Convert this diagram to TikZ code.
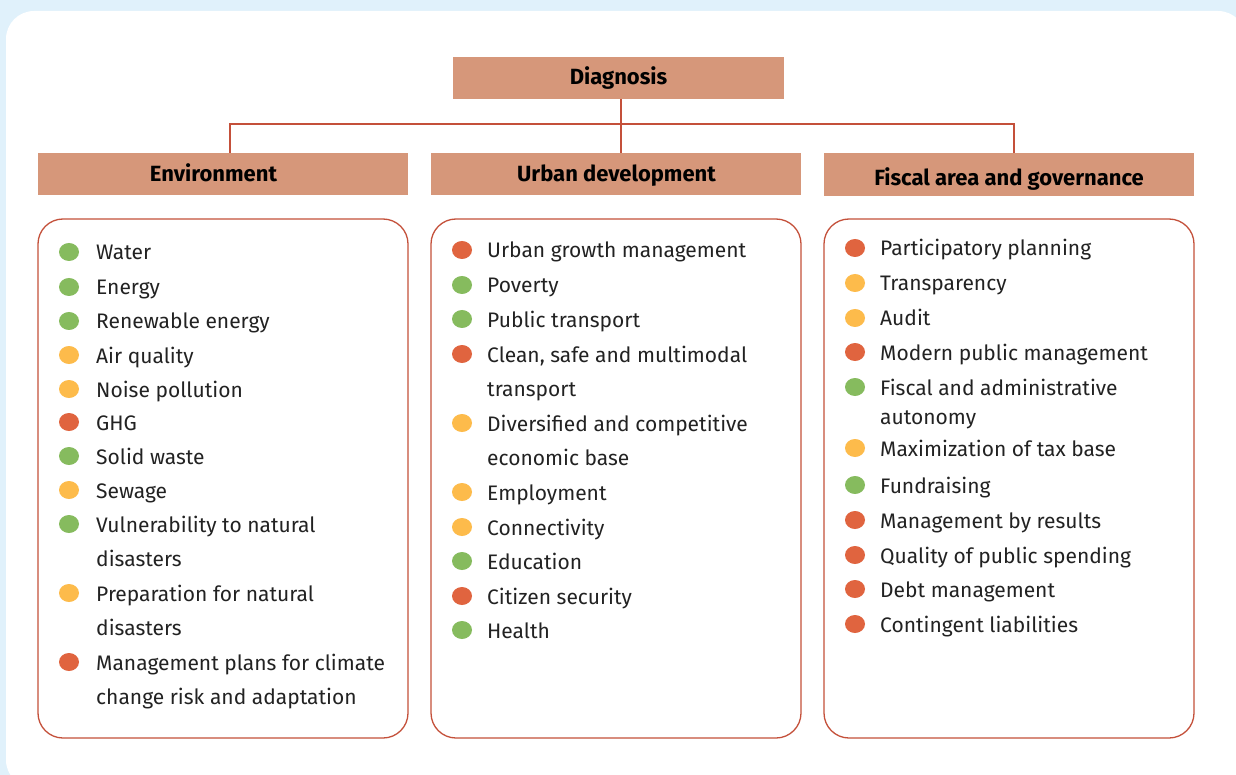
\documentclass[tikz,border=0pt]{standalone}
\usepackage{fontspec}
\setmainfont{Fira Sans}
\usetikzlibrary{shapes.geometric}
\definecolor{bg}{HTML}{E0F1FB}
\definecolor{hdr}{HTML}{D6977A}
\definecolor{lineC}{HTML}{C4503A}
\definecolor{gr}{HTML}{86BB5E}
\definecolor{yl}{HTML}{FDBB4B}
\definecolor{rd}{HTML}{E0643F}
\definecolor{txt}{HTML}{222222}
\newcommand\twol[2]{\vtop{\hbox{#1}\hbox{#2}}}
\newcommand\twos[2]{\vtop{\baselineskip=29pt\hbox{#1}\hbox{#2}}}
\begin{document}
\begin{tikzpicture}[x=1pt,y=-1pt,
  hdrbox/.style={fill=hdr, minimum height=42pt, inner sep=0pt, font=\fontsize{22}{26}\selectfont\bfseries, text=black},
  hdrtext/.style={inner sep=0pt, anchor=base, font=\fontsize{22}{26}\selectfont\bfseries, text=black},
  panel/.style={draw=lineC, line width=1.3pt, rounded corners=25pt, minimum width=370pt, minimum height=519pt, inner sep=0pt},
  dot/.style={ellipse, inner sep=0pt, minimum width=20pt, minimum height=18pt, draw=none},
  item/.style={anchor=base west, inner sep=0pt, font=\fontsize{21}{34.5}\selectfont, text=txt},
  conn/.style={draw=lineC, line width=1.5pt}]
\useasboundingbox (0,0) rectangle (1236,775);
\fill[bg] (0,0) rectangle (1236,775);
\begin{scope}
\clip (0,0) rectangle (1236,775);
\fill[white, rounded corners=28pt] (6,11) rectangle (1246,788);
\end{scope}

% header boxes
\node[hdrbox, minimum width=331pt] (diag) at (618.5,78) {};
\node[hdrtext] (diagt) at (618.5,85) {Diagnosis};
\node[hdrbox, minimum width=370pt] (env) at (223,174) {};
\node[hdrtext] (envt) at (213.5,181.5) {Environment};
\node[hdrbox, minimum width=370pt] (urb) at (616,174) {};
\node[hdrtext] (urbt) at (616.5,181.5) {Urban development};
\node[hdrbox, minimum width=370pt, minimum height=43pt] (fis) at (1009,174.5) {};
\node[hdrtext] (fist) at (1009,186) {Fiscal area and governance};

% connectors
\coordinate (jL) at (230,124);
\coordinate (jM) at (621,124);
\coordinate (jR) at (1014,124);
\draw[conn] (diag.south -| jM) -- (urb.north -| jM);
\draw[conn] (env.north -| jL) -- (jL) -- (jR) -- (fis.north -| jR);

% panels
\node[panel] (envp) at (223,478.5) {};
\node[panel] (urbp) at (616,478.5) {};
\node[panel] (fisp) at (1009,478.5) {};

% environment items
\foreach \y/\c/\t [count=\i] in {
  252/gr/{Water},
  287/gr/{Energy},
  321/gr/{Renewable energy},
  355/yl/{Air quality},
  389/yl/{Noise pollution},
  422/rd/{GHG},
  456/gr/{Solid waste},
  490/yl/{Sewage},
  524/gr/{\twol{Vulnerability to natural}{disasters}},
  593/yl/{\twol{Preparation for natural}{disasters}},
  662/rd/{\twol{Management plans for climate}{change risk and adaptation}}}
{
  \node[dot, fill=\c] (ed\i) at (69,\y) {};
  \node[item] (et\i) at (96,\y+8) {\t};
}

% urban items
\foreach \y/\c/\t [count=\i] in {
  250/rd/{Urban growth management},
  285/gr/{Poverty},
  319/gr/{Public transport},
  354/rd/{\twol{Clean, safe and multimodal}{transport}},
  423/yl/{\twol{Diversified and competitive}{economic base}},
  492/yl/{Employment},
  527/yl/{Connectivity},
  561/gr/{Education},
  596/rd/{Citizen security},
  630/gr/{Health}}
{
  \node[dot, fill=\c] (ud\i) at (462,\y) {};
  \node[item] (ut\i) at (487,\y+8) {\t};
}

% fiscal items
\foreach \y/\c/\t [count=\i] in {
  248/rd/{Participatory planning},
  283/yl/{Transparency},
  318/yl/{Audit},
  352/rd/{Modern public management},
  387/gr/{\twos{Fiscal and administrative}{autonomy}},
  448/yl/{Maximization of tax base},
  485/gr/{Fundraising},
  520/rd/{Management by results},
  555/rd/{Quality of public spending},
  589/rd/{Debt management},
  624/rd/{Contingent liabilities}}
{
  \node[dot, fill=\c] (fd\i) at (855,\y) {};
  \node[item] (ft\i) at (880,\y+8) {\t};
}
\end{tikzpicture}
\end{document}
